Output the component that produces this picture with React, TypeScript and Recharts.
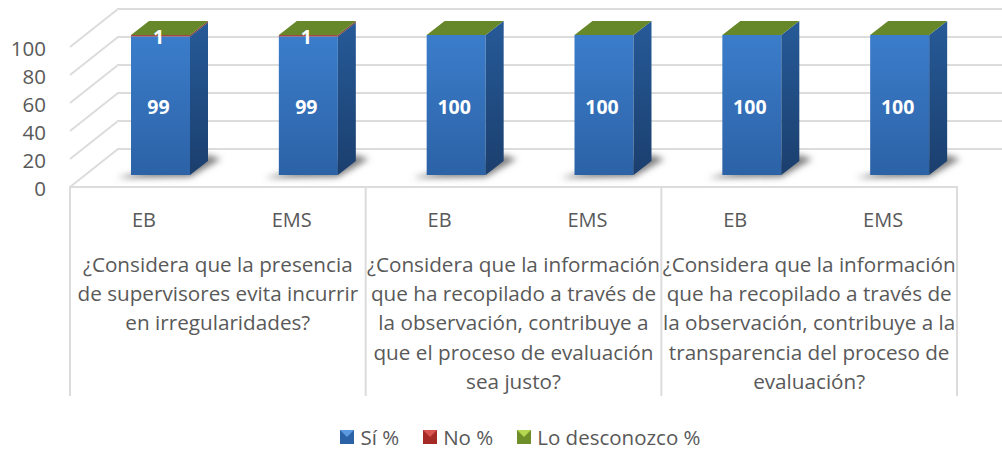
import React from 'react';
import { BarChart, Bar, XAxis, YAxis, CartesianGrid, Legend, LabelList } from 'recharts';

const levels = ['EB', 'EMS', 'EB', 'EMS', 'EB', 'EMS'];
const siValues = [99, 99, 100, 100, 100, 100];
const noValues = [1, 1, 0, 0, 0, 0];
const unknownValues = [0, 0, 0, 0, 0, 0];
const yTicks = [0, 20, 40, 60, 80, 100];
const questions = [
    ['¿Considera que la presencia', 'de supervisores evita incurrir', 'en irregularidades?'],
    ['¿Considera que la información', 'que ha recopilado a través de', 'la observación, contribuye a', 'que el proceso de evaluación', 'sea justo?'],
    ['¿Considera que la información', 'que ha recopilado a través de', 'la observación, contribuye a la', 'transparencia del proceso de', 'evaluación?'],
];

const data = levels.map((level, i) => ({
    key: `${level}-${i}`,
    level,
    si: siValues[i],
    no: noValues[i],
    unknown: unknownValues[i],
}));

const FONT = '"Open Sans", sans-serif';
const TEXT = '#595959';
const LINE = '#dcdcdc';
// fake 3d: bars sit mid-way on the floor, back wall is further up and right
const BAR_DX = 17;
const BAR_DY = -12;
const DEPTH_X = 18;
const DEPTH_Y = 14;
const WALL_DX = 48;
const WALL_DY = 38;

const Box = ({ x, y, width, height, front, side, top, shadow }: any) => {
    const fx = x + BAR_DX;
    const fy = y + BAR_DY;
    const r = fx + width;
    const b = fy + height;
    return (
        <g>
            {shadow && (
                <polygon
                    points={`${fx - 14},${b + 3} ${r},${b + 2} ${r + 31},${b - 16} ${r + 18},${b - 20}`}
                    fill="#808080"
                    filter="url(#floorShadow)"
                />
            )}
            {height > 0 && <rect x={fx} y={fy} width={width} height={height} fill={front} />}
            {height > 0 && (
                <polygon
                    points={`${r},${fy} ${r + DEPTH_X},${fy - DEPTH_Y} ${r + DEPTH_X},${b - DEPTH_Y} ${r},${b}`}
                    fill={side}
                />
            )}
            {top && (
                <polygon
                    points={`${fx},${fy} ${fx + DEPTH_X},${fy - DEPTH_Y} ${r + DEPTH_X},${fy - DEPTH_Y} ${r},${fy}`}
                    fill={top}
                />
            )}
        </g>
    );
};

const BarLabel = ({ x, y, width, height, value }: any) => {
    if (!value) return null;
    return (
        <text
            x={x + width / 2 + BAR_DX - 2}
            y={y + height / 2 + BAR_DY + 1}
            textAnchor="middle"
            dominantBaseline="central"
            fill="#fff"
            fontFamily={FONT}
            fontSize={19.5}
            fontWeight={700}
        >
            {value}
        </text>
    );
};

// two level category axis: level label, then the question spanning two columns
const MultiTick = ({ x, y, index, payload }: any) => {
    const half = 73.9;
    const level = levels[index] ?? payload.value;
    const lines = index % 2 === 0 ? questions[index / 2] : [];
    return (
        <g>
            <text x={x} y={y + 24} textAnchor="middle" dominantBaseline="central" fill={TEXT} fontFamily={FONT} fontSize={20}>
                {level}
            </text>
            {index % 2 === 0 && <line x1={x - half} x2={x - half} y1={y - 9} y2={y + 201} stroke={LINE} strokeWidth={2} />}
            {index === 5 && <line x1={x + half} x2={x + half} y1={y - 9} y2={y + 201} stroke={LINE} strokeWidth={2} />}
            {lines.map((t, i) => (
                <text key={i} x={x + half} y={y + 69 + i * 29.2} textAnchor="middle" dominantBaseline="central" fill={TEXT} fontFamily={FONT} fontSize={20.7}>
                    {t}
                </text>
            ))}
        </g>
    );
};

// gridlines run up the side wall, then along the back
const gridLine = ({ x1, x2, y1 }: any) => (
    <polyline
        key={`grid-${y1}`}
        points={`${x1},${y1} ${x1 + WALL_DX},${y1 - WALL_DY} ${x2 + WALL_DX},${y1 - WALL_DY}`}
        fill="none"
        stroke={LINE}
        strokeWidth={2}
    />
);

const legendItems = [
    { name: 'Sí %', dark: '#2c62a6', light: '#5b9ae0' },
    { name: 'No %', dark: '#a52a26', light: '#d9534f' },
    { name: 'Lo desconozco %', dark: '#6f8f2a', light: '#b5d64f' },
];

const ChartLegend = () => (
    <div style={{ display: 'flex', justifyContent: 'center', gap: 24, fontFamily: FONT, fontSize: 20.5, color: TEXT, lineHeight: '24px' }}>
        {legendItems.map((item) => (
            <span key={item.name} style={{ display: 'inline-flex', alignItems: 'center', gap: 6 }}>
                <svg width={14} height={14}>
                    <rect width={14} height={14} fill={item.dark} />
                    <polygon points="0,0 14,0 7,7" fill={item.light} />
                </svg>
                {item.name}
            </span>
        ))}
    </div>
);

export default function App() {
    return (
        <BarChart
            width={1002}
            height={452}
            data={data}
            barSize={59}
            barGap={0}
            style={{ position: 'absolute', left: 0, top: 0 }}
            margin={{ top: 47, right: 45, bottom: 141, left: 0 }}
        >
            <defs>
                <linearGradient id="siFront" x1="0" y1="0" x2="0" y2="1">
                    <stop offset="0" stopColor="#3b7dcb" />
                    <stop offset="1" stopColor="#2c62a6" />
                </linearGradient>
                <linearGradient id="siSide" x1="0" y1="0" x2="0" y2="1">
                    <stop offset="0" stopColor="#265a98" />
                    <stop offset="1" stopColor="#1b3f6e" />
                </linearGradient>
                <filter id="floorShadow" x="-30%" y="-60%" width="160%" height="220%">
                    <feGaussianBlur stdDeviation="3" />
                </filter>
            </defs>
            <CartesianGrid vertical={false} horizontal={gridLine} />
            <XAxis
                dataKey="key"
                interval={0}
                height={100}
                axisLine={{ stroke: LINE, strokeWidth: 2 }}
                tickLine={false}
                tick={<MultiTick />}
            />
            <YAxis
                domain={[0, 100]}
                ticks={yTicks}
                width={70}
                axisLine={false}
                tickLine={false}
                tick={{ fill: TEXT, fontFamily: FONT, fontSize: 20.5, dy: 2 }}
                tickMargin={18}
            />
            <Bar
                dataKey="si"
                name="Sí %"
                stackId="a"
                isAnimationActive={false}
                shape={(p: any) => <Box {...p} front="url(#siFront)" side="url(#siSide)" shadow />}
            >
                <LabelList dataKey="si" content={<BarLabel />} />
            </Bar>
            <Bar
                dataKey="no"
                name="No %"
                stackId="a"
                isAnimationActive={false}
                shape={(p: any) => <Box {...p} front="#a8473f" side="#7c3a35" />}
            >
                <LabelList dataKey="no" content={<BarLabel />} />
            </Bar>
            <Bar
                dataKey="unknown"
                name="Lo desconozco %"
                stackId="a"
                isAnimationActive={false}
                shape={(p: any) => <Box {...p} front="#6f8f2a" side="#5a7524" top="#66872a" />}
            />
            <Legend content={<ChartLegend />} verticalAlign="bottom" height={24} wrapperStyle={{ bottom: 3, left: 42 }} />
        </BarChart>
    );
}
